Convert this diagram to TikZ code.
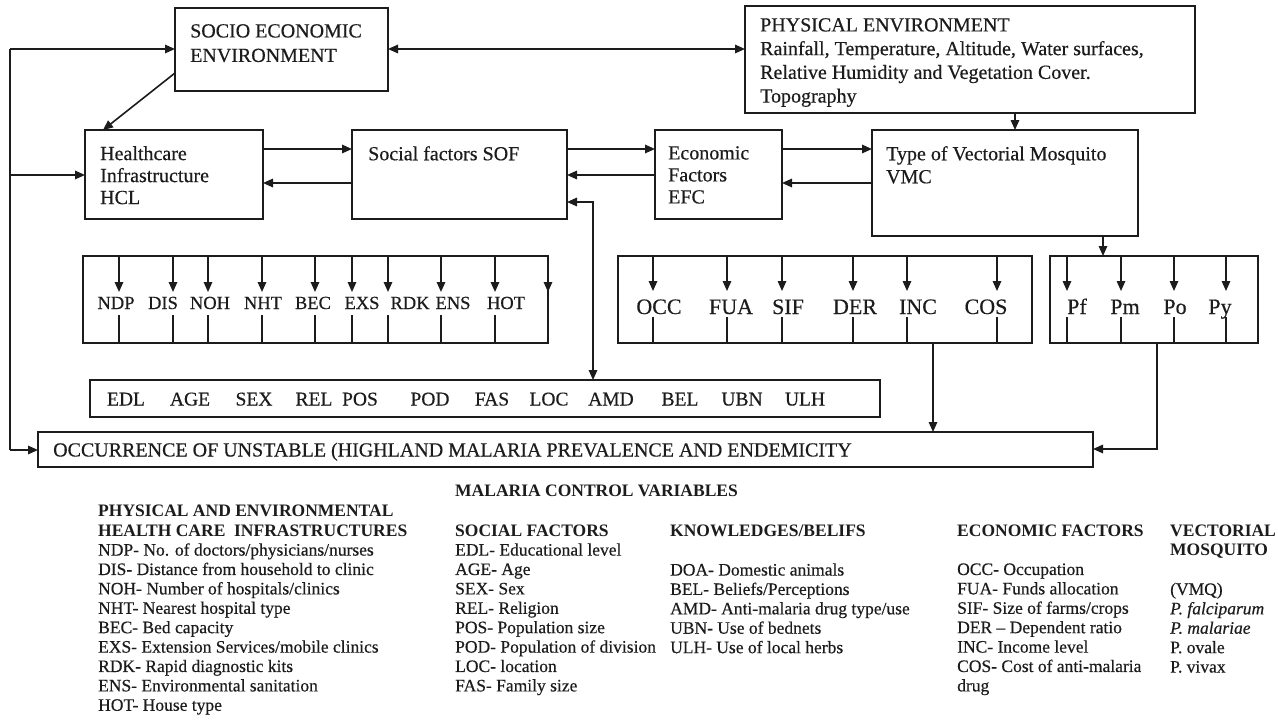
\documentclass[tikz,border=0pt]{standalone}
\usepackage{fontspec}
\setmainfont{Liberation Serif}[UprightFeatures={FakeBold=0.4},ItalicFeatures={FakeBold=0.4}]
\usetikzlibrary{arrows.meta}
\definecolor{ink}{RGB}{28,28,28}
\newcommand\mybox[5]{\node[box, anchor=north west, minimum width={(#4-#2)*1pt}, minimum height={(#5-#3)*1pt}] (#1) at (#2,#3) {};}
\begin{document}
\begin{tikzpicture}[x=1pt,y=-1pt,
  box/.style={draw=ink, line width=1.8pt, inner sep=0pt, outer sep=0pt},
  ln/.style={draw=ink, line width=1.6pt},
  arr/.style={ln, -{Triangle[length=10pt,width=8.5pt]}},
  darr/.style={ln, {Triangle[length=10pt,width=8.5pt]}-{Triangle[length=10pt,width=8.5pt]}},
  mtxt/.style={anchor=north west, inner sep=0pt, align=left, text=ink, font=\fontsize{20}{22}\selectfont},
  hl/.style={anchor=base, inner sep=0pt, text=ink, font=\fontsize{18.5}{20}\selectfont},
  el/.style={anchor=base, inner sep=0pt, text=ink, font=\fontsize{22}{24}\selectfont},
  sl/.style={anchor=base, inner sep=0pt, text=ink, font=\fontsize{19.5}{22}\selectfont},
  lg/.style={anchor=north west, inner sep=0pt, align=left, text=ink, font=\fontsize{17.5}{19.4}\selectfont},
]
\useasboundingbox[fill=white] (0,0) rectangle (1278,725);

% boxes
\mybox{socio}{175}{8}{388}{91}
\mybox{phys}{745}{6}{1195}{113}
\mybox{hcl}{85}{130}{263}{219}
\mybox{sof}{352}{130}{567}{219}
\mybox{efc}{655}{130}{782}{219}
\mybox{vmc}{872}{130}{1138}{236}
\mybox{hv}{83}{256}{548}{343}
\mybox{ev}{618}{256}{1032}{343}
\mybox{pv}{1050}{256}{1258}{343}
\mybox{sv}{90}{380}{880}{417}
\mybox{occ}{38}{432}{1093}{467}

% box texts
\node[mtxt, font=\fontsize{20}{24.5}\selectfont] (tsocio) at (190,24) {SOCIO ECONOMIC\\ENVIRONMENT};
\node[mtxt, font=\fontsize{20}{23.7}\selectfont] (tphys) at (760,18) {PHYSICAL ENVIRONMENT\\Rainfall, Temperature, Altitude, Water surfaces,\\Relative Humidity and Vegetation Cover.\\Topography};
\node[mtxt] (thcl) at (100,146) {Healthcare\\Infrastructure\\HCL};
\node[mtxt] (tsof) at (368,146) {Social factors SOF};
\node[mtxt] (tefc) at (668,146) {Economic\\Factors\\EFC};
\node[mtxt, font=\fontsize{20}{23}\selectfont] (tvmc) at (886,146) {Type of Vectorial Mosquito\\VMC};
\node[anchor=base west, inner sep=0pt, text=ink, font=\fontsize{20}{22}\selectfont] (tocc) at (53,456.5) {OCCURRENCE OF UNSTABLE (HIGHLAND MALARIA PREVALENCE AND ENDEMICITY};

% connectors between boxes
\coordinate (lt) at (10,49);
\coordinate (lm) at (10,175);
\coordinate (lb) at (10,450);
\draw[darr] (socio.east |- lt) -- (phys.west |- lt);
\draw[ln] (lt) -- (lb);
\draw[arr] (lt) -- (socio.west |- lt);
\draw[arr] (lm) -- (hcl.west |- lm);
\draw[arr] (lb) -- (occ.west |- lb);
\draw[arr] (socio.west |- 0,73) -- (hcl.north -| 103,0);
\draw[arr] (hcl.east |- 0,149) -- (sof.west |- 0,149);
\draw[arr] (sof.west |- 0,183) -- (hcl.east |- 0,183);
\draw[arr] (sof.east |- 0,149) -- (efc.west |- 0,149);
\draw[arr] (efc.west |- 0,175) -- (sof.east |- 0,175);
\draw[arr] (efc.east |- 0,149) -- (vmc.west |- 0,149);
\draw[arr] (vmc.west |- 0,183) -- (efc.east |- 0,183);
\draw[arr] (phys.south -| 1015,0) -- (vmc.north -| 1015,0);
\draw[darr] (sof.east |- 0,202) -| (sv.north -| 593,0);
\draw[arr] (vmc.south -| 1103,0) -- (pv.north -| 1103,0);
\draw[arr] (ev.south -| 933,0) -- (occ.north -| 933,0);
\draw[arr] (pv.south -| 1157,0) |- (occ.east |- 0,449);

% arrows inside variable boxes
\foreach \x in {119,173,208,262,315,352,388,441,495,548}{
  \draw[arr] (hv.north -| \x,0) -- (\x,292);
  \draw[ln] (\x,315) -- (hv.south -| \x,0);
}
\foreach \x in {653,727,782,853,907,997}{
  \draw[arr] (ev.north -| \x,0) -- (\x,291);
  \draw[ln] (\x,317) -- (ev.south -| \x,0);
}
\foreach \x in {1067,1121,1174,1226}{
  \draw[arr] (pv.north -| \x,0) -- (\x,291);
  \draw[ln] (\x,317) -- (pv.south -| \x,0);
}

% variable labels
\node[hl] (ndp) at (116,309) {NDP};
\node[hl] (dis) at (163,309) {DIS};
\node[hl] (noh) at (210,309) {NOH};
\node[hl] (nht) at (263,309) {NHT};
\node[hl] (bec) at (313,309) {BEC};
\node[hl] (exs) at (362,309) {EXS};
\node[hl] (rdk) at (410,309) {RDK};
\node[hl] (ens) at (453,309) {ENS};
\node[hl] (hot) at (506,309) {HOT};

\node[el] (occv) at (659,314) {OCC};
\node[el] (fua) at (731,314) {FUA};
\node[el] (sif) at (788,314) {SIF};
\node[el] (der) at (855,314) {DER};
\node[el] (inc) at (918,314) {INC};
\node[el] (cos) at (986,314) {COS};

\node[el] (pf) at (1077,314) {Pf};
\node[el] (pm) at (1125,314) {Pm};
\node[el] (po) at (1175,314) {Po};
\node[el] (py) at (1220,314) {Py};

\node[sl] (edl) at (126,405.5) {EDL};
\node[sl] (age) at (190,405.5) {AGE};
\node[sl] (sex) at (254,405.5) {SEX};
\node[sl] (rel) at (314,405.5) {REL};
\node[sl] (pos) at (360,405.5) {POS};
\node[sl] (pod) at (430,405.5) {POD};
\node[sl] (fas) at (492,405.5) {FAS};
\node[sl] (loc) at (549,405.5) {LOC};
\node[sl] (amd) at (611,405.5) {AMD};
\node[sl] (bel) at (680,405.5) {BEL};
\node[sl] (ubn) at (742,405.5) {UBN};
\node[sl] (ulh) at (805,405.5) {ULH};

% legend
\node[lg] (mcv) at (455,485) {\textbf{MALARIA CONTROL VARIABLES}};
\node[lg] (col1) at (98,505) {\textbf{PHYSICAL AND ENVIRONMENTAL}\\
\textbf{HEALTH CARE\ \ INFRASTRUCTURES}\\
NDP- No. of doctors/physicians/nurses\\
DIS- Distance from household to clinic\\
NOH- Number of hospitals/clinics\\
NHT- Nearest hospital type\\
BEC- Bed capacity\\
EXS- Extension Services/mobile clinics\\
RDK- Rapid diagnostic kits\\
ENS- Environmental sanitation\\
HOT- House type};
\node[lg] (col2) at (455,524.4) {\textbf{SOCIAL FACTORS}\\
EDL- Educational level\\
AGE- Age\\
SEX- Sex\\
REL- Religion\\
POS- Population size\\
POD- Population of division\\
LOC- location\\
FAS- Family size};
\node[lg] (col3h) at (670,524.4) {\textbf{KNOWLEDGES/BELIFS}};
\node[lg] (col3) at (670,563.2) {DOA- Domestic animals\\
BEL- Beliefs/Perceptions\\
AMD- Anti-malaria drug type/use\\
UBN- Use of bednets\\
ULH- Use of local herbs};
\node[lg] (col4h) at (957,524.4) {\textbf{ECONOMIC FACTORS}};
\node[lg] (col4) at (957,563.2) {OCC- Occupation\\
FUA- Funds allocation\\
SIF- Size of farms/crops\\
DER -- Dependent ratio\\
INC- Income level\\
COS- Cost of anti-malaria\\
drug};
\node[lg] (col5h) at (1170,524.4) {\textbf{VECTORIAL}\\\textbf{MOSQUITO}};
\node[lg] (col5) at (1170,582.6) {(VMQ)\\
\textit{P. falciparum}\\
\textit{P. malariae}\\
P. ovale\\
P. vivax};
\end{tikzpicture}
\end{document}
